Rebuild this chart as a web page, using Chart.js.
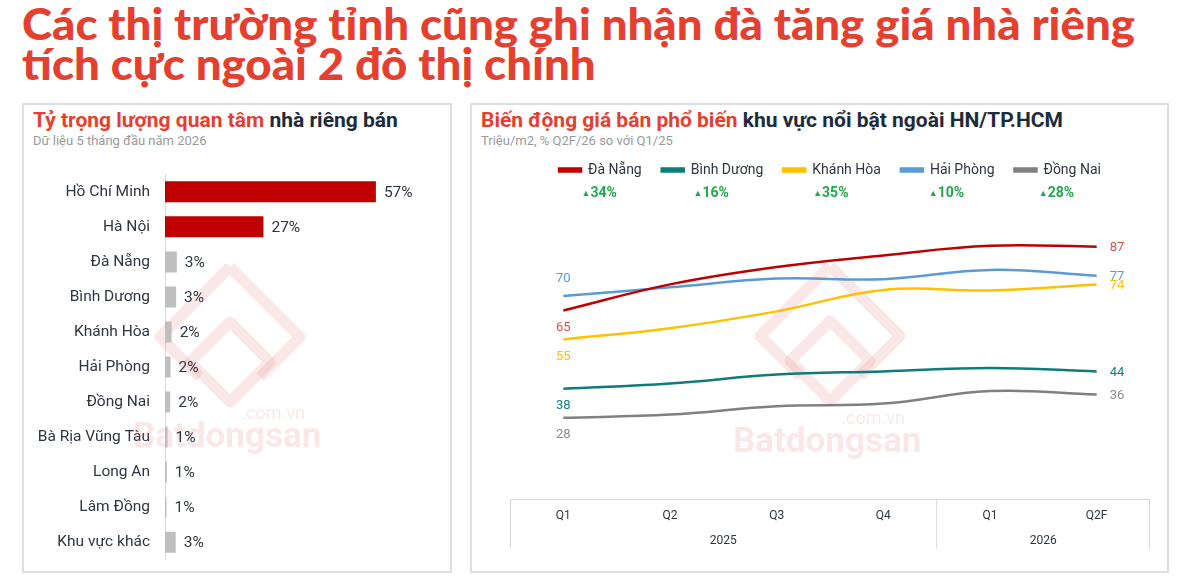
<!DOCTYPE html>
<html>
<head>
<meta charset="utf-8">
<script src="https://cdn.jsdelivr.net/npm/chart.js@4.4.1/dist/chart.umd.min.js"></script>
<style>
  body { margin: 0; width: 1186px; height: 583px; background: #fff; position: relative; overflow: hidden; font-family: Roboto, sans-serif; }
  #title { position: absolute; left: 22px; top: 4px; font: 900 43px Lato, sans-serif; line-height: 40px; color: #e5402f; white-space: nowrap; transform-origin: 0 0; }
  .panel { position: absolute; top: 103px; height: 470px; border: 2px solid #dedede; box-sizing: border-box; }
  .head { position: absolute; font-weight: bold; font-size: 21px; color: #1c2b3c; white-space: nowrap; }
  .head span { color: #e5402f; }
  .sub { position: absolute; font-size: 13px; color: #9a9a9a; white-space: nowrap; }
  canvas { position: absolute; }
</style>
</head>
<body>
<div id="title"><span id="line1">Các thị trường tỉnh cũng ghi nhận đà tăng giá nhà riêng</span><br>tích cực ngoài 2 đô thị chính</div>

<div class="panel" style="left:22px;width:430px"></div>
<div class="panel" style="left:470px;width:699px"></div>

<div class="head" style="left:33px;top:108px"><span>Tỷ trọng lượng quan tâm</span> nhà riêng bán</div>
<div class="sub" style="left:33px;top:133px">Dữ liệu 5 tháng đầu năm 2026</div>
<div class="head" style="left:481px;top:108px"><span>Biến động giá bán phổ biến</span> khu vực nổi bật ngoài HN/TP.HCM</div>
<div class="sub" style="left:481px;top:133px">Triệu/m2, % Q2F/26 so với Q1/25</div>

<canvas id="barChart" width="426" height="434" style="left:24px;top:150px"></canvas>
<canvas id="lineChart" width="694" height="427" style="left:472px;top:143px"></canvas>

<script>
// left chart: share of interest
const regions = ["Hồ Chí Minh", "Hà Nội", "Đà Nẵng", "Bình Dương", "Khánh Hòa", "Hải Phòng", "Đồng Nai", "Bà Rịa Vũng Tàu", "Long An", "Lâm Đồng", "Khu vực khác"];
const shares = [57, 26.6, 3.2, 3.0, 1.8, 1.5, 1.4, 0.7, 0.5, 0.4, 2.9];
const shareLabels = ["57%", "27%", "3%", "3%", "2%", "2%", "2%", "1%", "1%", "1%", "3%"];

// right chart: price per m2 by quarter
const quarters = ["Q1", "Q2", "Q3", "Q4", "Q1", "Q2F"];
const years = ["2025", "2026"];
const yearSpans = [4, 2];
const cities = ["Đà Nẵng", "Bình Dương", "Khánh Hòa", "Hải Phòng", "Đồng Nai"];
const daNang = [65, 74, 80, 84, 87.3, 87];
const binhDuong = [38, 39.8, 42.9, 44, 45.2, 44];
const khanhHoa = [55, 58.9, 64.7, 72.1, 71.9, 74];
const haiPhong = [70, 73, 76, 75.8, 79, 77];
const dongNai = [28, 29.1, 32, 32.9, 37.2, 36];
const changes = ["34%", "16%", "35%", "10%", "28%"];

const lineColors = ["#c00000", "#0e7c7b", "#ffc000", "#5b9bd5", "#808080"];
const valueColors = ["#e0504f", "#138080", "#ffc000", "#5b9bd5", "#8c8c8c"];
const startAbove = [false, false, false, true, false];
const textColor = "#2f3640";
const wmColor = "rgba(228, 120, 120, 0.17)";

// stretch the headline to the width of the original
const title = document.getElementById("title");
const w = document.getElementById("line1").getBoundingClientRect().width;
title.style.transform = "scaleX(" + (1113 / w).toFixed(4) + ")";

// faint site watermark
function drawWatermark(ctx, cx, cy, tx, ty) {
  ctx.save();
  ctx.strokeStyle = wmColor;
  ctx.lineWidth = 11;
  ctx.lineJoin = "round";
  ctx.beginPath();
  ctx.moveTo(cx, cy - 70); ctx.lineTo(cx + 70, cy); ctx.lineTo(cx + 30, cy + 40);
  ctx.moveTo(cx - 30, cy + 40); ctx.lineTo(cx - 70, cy); ctx.lineTo(cx, cy - 70);
  ctx.stroke();
  ctx.beginPath();
  ctx.moveTo(cx, cy - 15); ctx.lineTo(cx + 40, cy + 25); ctx.lineTo(cx, cy + 65);
  ctx.lineTo(cx - 40, cy + 25); ctx.closePath();
  ctx.stroke();
  ctx.fillStyle = wmColor;
  ctx.font = "bold 35px Roboto";
  ctx.textBaseline = "alphabetic";
  ctx.fillText("Batdongsan", tx, ty);
  ctx.font = "18px Roboto";
  ctx.textAlign = "right";
  ctx.fillText(".com.vn", tx + 172, ty - 28);
  ctx.restore();
}

const barLabels = {
  id: "barLabels",
  beforeDatasetsDraw(chart) {
    drawWatermark(chart.ctx, 206, 187, 109, 297);
  },
  afterDatasetsDraw(chart) {
    const ctx = chart.ctx;
    ctx.save();
    ctx.font = "15.5px Roboto";
    ctx.fillStyle = textColor;
    ctx.textBaseline = "middle";
    chart.getDatasetMeta(0).data.forEach((bar, i) => {
      ctx.fillText(shareLabels[i], bar.x + 8, bar.y + 1);
    });
    ctx.restore();
  }
};

new Chart(document.getElementById("barChart"), {
  type: "bar",
  data: {
    labels: regions,
    datasets: [{
      data: shares,
      backgroundColor: shares.map((v, i) => i < 2 ? "#c00000" : "#bfbfbf"),
      categoryPercentage: 0.6,
      barPercentage: 1
    }]
  },
  options: {
    indexAxis: "y",
    responsive: false,
    animation: false,
    layout: { padding: { top: 0, bottom: 0, right: 7.5 } },
    plugins: { legend: { display: false }, tooltip: { enabled: false } },
    scales: {
      x: { display: false, min: 0, max: 75 },
      y: {
        afterFit(scale) { scale.width = 141; },
        grid: { display: false, drawTicks: false },
        border: { display: true, color: "#d9d9d9", width: 1 },
        ticks: { color: textColor, font: { family: "Roboto", size: 15.5 }, padding: 15 }
      }
    }
  },
  plugins: [barLabels]
});

const legendSpace = {
  id: "legendSpace",
  beforeInit(chart) {
    const fit = chart.legend.fit;
    chart.legend.fit = function () {
      fit.bind(chart.legend)();
      this.height = 66;
    };
  }
};

const lineExtras = {
  id: "lineExtras",
  beforeDatasetsDraw(chart) {
    drawWatermark(chart.ctx, 358, 193, 261, 309);
  },
  afterDraw(chart) {
    const ctx = chart.ctx;
    ctx.save();
    // start and end value labels
    ctx.font = "13px Roboto";
    chart.data.datasets.forEach((ds, i) => {
      const pts = chart.getDatasetMeta(i).data;
      const first = pts[0], last = pts[pts.length - 1];
      ctx.fillStyle = valueColors[i];
      ctx.textAlign = "center";
      ctx.textBaseline = "middle";
      ctx.fillText(Math.round(ds.data[0]), first.x, first.y + (startAbove[i] ? -17 : 17));
      ctx.textAlign = "left";
      ctx.fillText(Math.round(ds.data[ds.data.length - 1]), last.x + 13, last.y + 1);
    });
    // growth under legend items
    chart.legend.legendHitBoxes.forEach((box, i) => {
      const cx = box.left + box.width / 2 + 4;
      const y = box.top + box.height / 2 + 23;
      ctx.fillStyle = "#22a84a";
      ctx.textBaseline = "middle";
      ctx.font = "9px Roboto";
      ctx.textAlign = "right";
      ctx.fillText("▲", cx - 14, y + 1);
      ctx.font = "bold 14px Roboto";
      ctx.textAlign = "left";
      ctx.fillText(changes[i], cx - 14, y);
    });
    // period box under the axis
    const x = chart.scales.x;
    const top = x.top, bottom = x.top + 50;
    const split = (x.getPixelForValue(yearSpans[0] - 1) + x.getPixelForValue(yearSpans[0])) / 2;
    ctx.strokeStyle = "#d9d9d9";
    ctx.lineWidth = 1;
    ctx.beginPath();
    ctx.moveTo(x.left, top + 0.5); ctx.lineTo(x.right, top + 0.5);
    [x.left + 0.5, split, x.right - 0.5].forEach(px => { ctx.moveTo(px, top); ctx.lineTo(px, bottom); });
    ctx.stroke();
    ctx.fillStyle = textColor;
    ctx.font = "12px Roboto";
    ctx.textAlign = "center";
    ctx.textBaseline = "middle";
    ctx.fillText(years[0], (x.left + split) / 2, top + 42);
    ctx.fillText(years[1], (split + x.right) / 2, top + 42);
    ctx.restore();
  }
};

const seriesData = [daNang, binhDuong, khanhHoa, haiPhong, dongNai];

new Chart(document.getElementById("lineChart"), {
  type: "line",
  data: {
    labels: quarters,
    datasets: cities.map((c, i) => ({
      label: c,
      data: seriesData[i],
      borderColor: lineColors[i],
      backgroundColor: lineColors[i],
      borderWidth: 2.5,
      pointRadius: 0,
      tension: 0.4
    }))
  },
  options: {
    responsive: false,
    animation: false,
    layout: { padding: { top: 0, left: 38, right: 16, bottom: 11 } },
    plugins: {
      tooltip: { enabled: false },
      legend: {
        labels: {
          boxWidth: 22,
          boxHeight: 3,
          padding: 20,
          color: textColor,
          font: { family: "Roboto", size: 14 }
        }
      }
    },
    scales: {
      y: { display: false, min: 0, max: 100 },
      x: {
        offset: true,
        afterFit(scale) { scale.height = 60; },
        grid: { display: false, drawTicks: false },
        border: { display: false },
        ticks: { color: textColor, font: { family: "Roboto", size: 12 }, padding: 10 }
      }
    }
  },
  plugins: [legendSpace, lineExtras]
});
</script>
</body>
</html>
